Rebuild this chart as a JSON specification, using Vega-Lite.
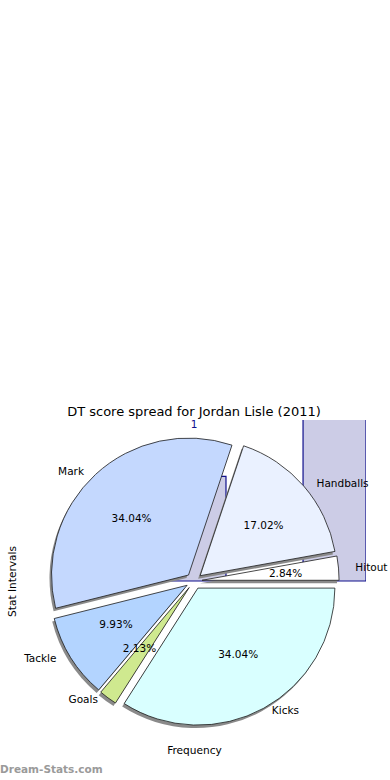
{
  "$schema": "https://vega.github.io/schema/vega-lite/v6.json",
  "width": 344,
  "height": 322,
  "autosize": {"type": "none"},
  "padding": {"left": 22, "top": 420, "right": 24, "bottom": 38},
  "background": "white",
  "config": {"font": "DejaVu Sans", "view": {"stroke": null}},
  "title": {"text": "DT score spread for Jordan Lisle (2011)", "fontSize": 13, "fontWeight": "normal", "font": "DejaVu Sans", "color": "#000000", "offset": 1},
  "datasets": {
    "bins": [
      {"bin_start": 4.1, "bin_end": 5.93, "freq": 6.5},
      {"bin_start": 5.93, "bin_end": 8.17, "freq": 0},
      {"bin_start": 8.17, "bin_end": 10, "freq": 12}
    ],
    "stats": [
      {"order": 1, "stat": "Kicks", "count": 48},
      {"order": 2, "stat": "Goals", "count": 3},
      {"order": 3, "stat": "Tackle", "count": 14},
      {"order": 4, "stat": "Mark", "count": 48},
      {"order": 5, "stat": "Handballs", "count": 24},
      {"order": 6, "stat": "Hitout", "count": 4}
    ]
  },
  "layer": [
    {
      "layer": [
        {
          "data": {"name": "bins"},
          "mark": {"type": "bar", "clip": true, "fill": "#ccccE6", "stroke": "#10108c", "strokeWidth": 1.2},
          "encoding": {
            "x": {"field": "bin_start", "type": "quantitative", "scale": {"domain": [0, 10], "nice": false, "zero": false},
              "axis": {"title": "Frequency", "labels": false, "ticks": false, "domain": false, "grid": false, "titlePadding": 3, "titleFontSize": 10.6, "titleFontWeight": "normal", "titleColor": "#000000", "titleFont": "DejaVu Sans"}},
            "x2": {"field": "bin_end"},
            "y": {"field": "freq", "type": "quantitative", "scale": {"domain": [-10, 10], "nice": false},
              "axis": {"title": "Stat Intervals", "labels": false, "ticks": false, "domain": false, "grid": false, "titlePadding": 5, "titleFontSize": 10.6, "titleFontWeight": "normal", "titleColor": "#000000", "titleFont": "DejaVu Sans"}},
            "y2": {"datum": 0}
          }
        },
        {
          "data": {"values": [{"label": "1"}]},
          "mark": {"type": "text", "baseline": "top", "align": "center", "dy": 0, "fontSize": 10.5, "color": "#10108c"},
          "encoding": {
            "x": {"datum": 5, "type": "quantitative"},
            "y": {"datum": 10, "type": "quantitative"},
            "text": {"field": "label"}
          }
        },
        {
          "data": {"values": [{"note": "Dream-Stats.com"}]},
          "mark": {"type": "text", "baseline": "middle", "align": "left", "dx": -22, "dy": 28, "fontSize": 10.5, "fontWeight": "bold", "color": "#9a9a9a"},
          "encoding": {
            "x": {"datum": 0, "type": "quantitative"},
            "y": {"datum": -10, "type": "quantitative"},
            "text": {"field": "note"}
          }
        }
      ]
    },
    {
      "data": {"name": "stats"},
      "transform": [
        {"joinaggregate": [{"op": "sum", "field": "count", "as": "total"}]},
        {"window": [{"op": "sum", "field": "count", "as": "cum"}], "sort": [{"field": "order"}], "frame": [null, 0]},
        {"calculate": "(datum.cum - datum.count) / datum.total", "as": "f0"},
        {"calculate": "datum.cum / datum.total", "as": "f1"},
        {"calculate": "PI * (datum.f0 + datum.f1)", "as": "mid"},
        {"calculate": "0.06 * cos(datum.mid)", "as": "cx"},
        {"calculate": "-0.06 * sin(datum.mid)", "as": "cy"},
        {"calculate": "1.2 * cos(datum.mid)", "as": "lx"},
        {"calculate": "-1.096 * sin(datum.mid)", "as": "ly"},
        {"calculate": "0.681 * cos(datum.mid)", "as": "px"},
        {"calculate": "-0.622 * sin(datum.mid)", "as": "py"},
        {"calculate": "format(100 * datum.count / datum.total, '.2f') + '%'", "as": "pct"}
      ],
      "layer": [
        {
          "mark": {"type": "arc", "radius": 137, "fill": "#8a8a8a", "stroke": null, "xOffset": -2, "yOffset": 3},
          "encoding": {
            "x": {"field": "cx", "type": "quantitative", "scale": {"domain": [-1.2741, 1.2741], "nice": false, "zero": false}, "axis": null},
            "y": {"field": "cy", "type": "quantitative", "scale": {"domain": [-1.1926, 1.1926], "nice": false, "zero": false}, "axis": null},
            "theta": {"field": "f0", "type": "quantitative", "stack": null, "scale": {"domain": [0, 1], "range": [1.5708, 7.854]}},
            "theta2": {"field": "f1"}
          }
        },
        {
          "mark": {"type": "arc", "radius": 137, "stroke": "#1a1a1a", "strokeWidth": 0.8},
          "encoding": {
            "x": {"field": "cx", "type": "quantitative", "axis": null},
            "y": {"field": "cy", "type": "quantitative", "axis": null},
            "theta": {"field": "f0", "type": "quantitative", "stack": null},
            "theta2": {"field": "f1"},
            "color": {"field": "stat", "type": "nominal", "legend": null,
              "scale": {"domain": ["Kicks", "Goals", "Tackle", "Mark", "Handballs", "Hitout"],
                        "range": ["#d9ffff", "#cfe98f", "#b3d4ff", "#c4d8fe", "#eaf1ff", "#ffffff"]}}
          }
        },
        {
          "mark": {"type": "text", "fontSize": 10.5, "color": "#000000", "align": "center", "baseline": "middle"},
          "encoding": {
            "x": {"field": "px", "type": "quantitative", "axis": null},
            "y": {"field": "py", "type": "quantitative", "axis": null},
            "text": {"field": "pct"}
          }
        },
        {
          "transform": [{"filter": "datum.lx >= 0"}],
          "mark": {"type": "text", "fontSize": 10.5, "color": "#000000", "align": "left", "baseline": "middle"},
          "encoding": {
            "x": {"field": "lx", "type": "quantitative", "axis": null},
            "y": {"field": "ly", "type": "quantitative", "axis": null},
            "text": {"field": "stat"}
          }
        },
        {
          "transform": [{"filter": "datum.lx < 0"}],
          "mark": {"type": "text", "fontSize": 10.5, "color": "#000000", "align": "right", "baseline": "middle"},
          "encoding": {
            "x": {"field": "lx", "type": "quantitative", "axis": null},
            "y": {"field": "ly", "type": "quantitative", "axis": null},
            "text": {"field": "stat"}
          }
        }
      ]
    }
  ],
  "resolve": {"scale": {"x": "independent", "y": "independent"}}
}
